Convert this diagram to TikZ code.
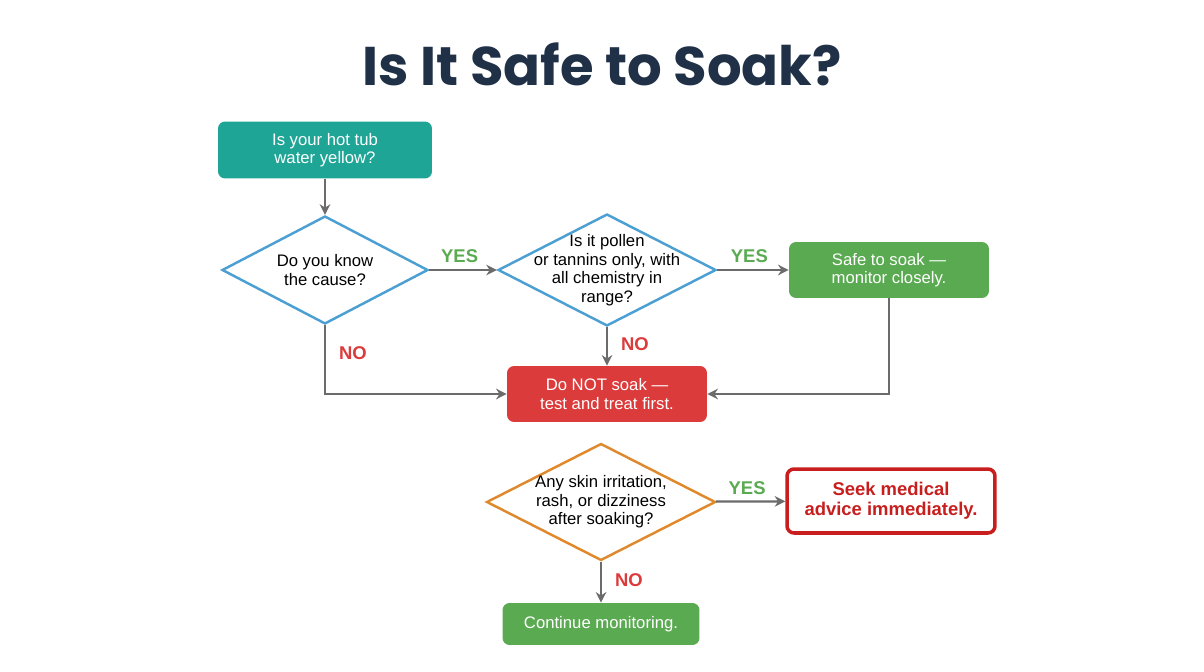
\documentclass[tikz,border=0pt]{standalone}
\usepackage{fontspec}
\setmainfont{Liberation Sans}
\newfontfamily\titlefont{Poppins}
\usetikzlibrary{shapes.geometric,arrows.meta,positioning}
\definecolor{navy}{HTML}{1F3047}
\definecolor{tealc}{HTML}{1FA596}
\definecolor{bluec}{HTML}{4C9FD2}
\definecolor{greenc}{HTML}{5AAA52}
\definecolor{redc}{HTML}{DC3B3B}
\definecolor{darkred}{HTML}{C81E1E}
\definecolor{orangec}{HTML}{E0892C}
\definecolor{grayc}{HTML}{6B6B6B}
\tikzset{
  box/.style={rectangle, rounded corners=4pt, text=white, align=center,
    font=\fontsize{9.5}{10.6}\selectfont},
  dia/.style={diamond, draw=#1, line width=1.4pt, fill=white, inner sep=0pt, aspect=2},
  diatext/.style={align=center, font=\fontsize{9.5}{10.6}\selectfont},
  conn/.style={draw=grayc, line width=1.3pt, -{Stealth[length=6pt,width=6pt]}},
  yes/.style={text=greenc, font=\bfseries\fontsize{10.5}{12}\selectfont},
  no/.style={text=redc, font=\bfseries\fontsize{10.5}{12}\selectfont},
}
\begin{document}
\begin{tikzpicture}[x=0.02cm,y=-0.02cm]
   \useasboundingbox[fill=white] (0,0) rectangle (1204,672);
   \node[text=navy, font=\titlefont\bfseries\fontsize{31}{36}\selectfont] (title) at (602,64) {Is It Safe to Soak?};

   % nodes
   \node[box, fill=tealc, minimum width=4.28cm, minimum height=1.14cm] (start) at (325,150) {Is your hot tub\\water yellow?};
   \node[dia=bluec, minimum width=4.12cm, minimum height=2.16cm] (know) at (325,270) {};
   \node[diatext] (knowt) at (know.center) {Do you know\\the cause?};
   \node[dia=bluec, minimum width=4.36cm, minimum height=2.24cm] (pollen) at (607,270) {};
   \node[diatext] (pollent) at (pollen.center) {Is it pollen\\or tannins only, with\\all chemistry in\\range?};
   \node[box, fill=greenc, minimum width=4cm, minimum height=1.12cm] (safe) at (889,270) {Safe to soak ---\\monitor closely.};
   \node[box, fill=redc, minimum width=4cm, minimum height=1.12cm] (dont) at (607,394) {Do NOT soak ---\\test and treat first.};
   \node[dia=orangec, minimum width=4.58cm, minimum height=2.34cm] (skin) at (601,502) {};
   \node[diatext] (skint) at (skin.center) {Any skin irritation,\\rash, or dizziness\\after soaking?};
   \node[box, draw=darkred, line width=2pt, fill=white, text=darkred, font=\bfseries\fontsize{10.5}{11.5}\selectfont,
         minimum width=4.16cm, minimum height=1.28cm] (medical) at (891,501) {Seek medical\\advice immediately.};
   \node[box, fill=greenc, minimum width=3.94cm, minimum height=0.84cm] (cont) at (601,624) {Continue monitoring.};

   % connectors
   \draw[conn] (start) -- (know);
   \draw[conn] (know) -- node[yes, above, pos=0.45] {YES} (pollen);
   \draw[conn] (pollen) -- node[yes, above, pos=0.45] {YES} (safe);
   \draw[conn] (know.south) |- node[no, pos=0.2, right=4pt] {NO} (dont.west);
   \draw[conn] (pollen) -- node[no, right=4pt, pos=0.45] {NO} (dont);
   \draw[conn] (safe.south) |- (dont.east);
   \draw[conn] (skin) -- node[yes, above, pos=0.45] {YES} (medical);
   \draw[conn] (skin) -- node[no, right=4pt, pos=0.45] {NO} (cont);
\end{tikzpicture}
\end{document}
